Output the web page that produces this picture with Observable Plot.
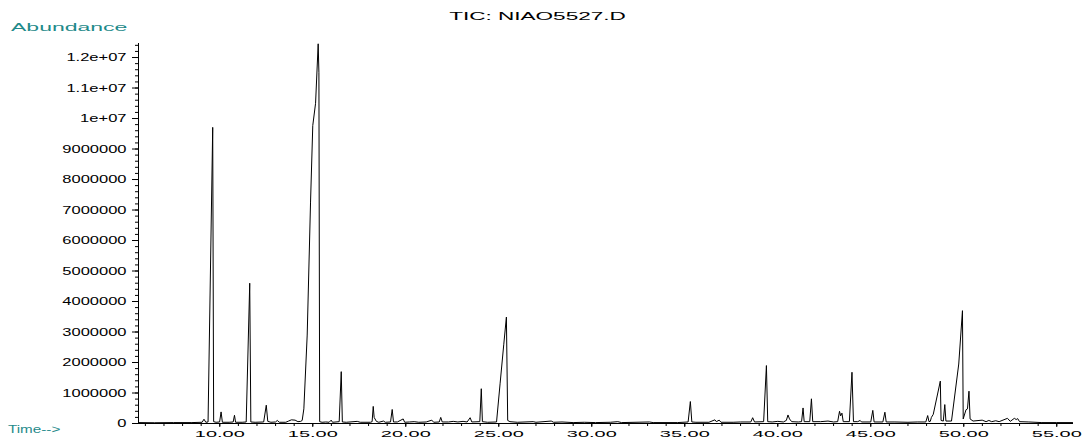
<!DOCTYPE html>
<html><head><meta charset="utf-8">
<script src="https://cdn.jsdelivr.net/npm/d3@7"></script>
<script src="https://cdn.jsdelivr.net/npm/@observablehq/plot@0.6"></script>
<style>
body{margin:0;background:#fff;}
svg{display:block;}
</style>
</head><body><div id="chart"></div>
<script>
const title = "TIC: NIAO5527.D";
const yAxisLabel = "Abundance";
const xAxisLabel = "Time-->";

const times = [5.63,6.5,7.5,8.5,9.05,9.15,9.25,9.37,9.62,9.67,9.8,9.99,10.07,10.14,10.5,10.72,10.79,10.85,11.2,11.42,11.61,11.67,11.9,12.36,12.5,12.58,12.75,13.0,13.09,13.2,13.55,13.7,13.85,14.05,14.2,14.35,14.43,14.52,14.7,14.88,15.0,15.15,15.29,15.33,15.37,15.5,15.7,15.88,15.99,16.06,16.42,16.53,16.59,16.8,17.39,17.55,18.1,18.19,18.25,18.3,18.42,18.55,18.8,18.9,19.18,19.27,19.34,19.55,19.86,19.94,20.2,20.45,20.7,21.1,21.4,21.5,21.8,21.88,21.96,22.3,22.55,22.8,23.08,23.3,23.46,23.55,23.98,24.06,24.12,24.4,24.88,25.07,25.27,25.41,25.48,25.6,26.0,26.85,27.0,27.82,27.95,28.4,29.0,29.6,30.2,31.0,31.4,31.6,33.1,33.3,34.6,35.18,35.3,35.38,35.6,36.3,36.62,36.7,36.85,36.95,37.6,38.0,38.55,38.65,38.75,39.24,39.39,39.46,39.7,40.0,40.3,40.46,40.55,40.63,40.75,41.1,41.28,41.36,41.42,41.72,41.81,41.88,42.3,42.7,43.0,43.22,43.32,43.38,43.45,43.52,43.85,43.99,44.07,44.3,44.43,44.5,45.0,45.11,45.18,45.65,45.76,45.83,46.3,47.0,47.5,47.96,48.06,48.13,48.2,48.26,48.36,48.74,48.78,48.9,48.98,49.04,49.34,49.73,49.93,49.97,50.12,50.2,50.28,50.34,50.5,50.99,51.2,51.35,51.5,51.72,51.9,52.35,52.5,52.72,52.82,52.9,53.0,53.5,54.2,55.0,55.85];
const abundance = [30000,25000,30000,30000,40000,140000,40000,50000,9710000,60000,40000,50000,380000,40000,40000,50000,270000,40000,40000,50000,4600000,50000,40000,50000,600000,70000,40000,50000,100000,40000,40000,80000,120000,110000,60000,70000,100000,480000,2900000,7260000,9770000,10500000,12450000,11500000,60000,40000,50000,40000,110000,40000,60000,1700000,50000,40000,70000,40000,40000,60000,560000,200000,70000,40000,80000,40000,50000,460000,50000,50000,150000,40000,50000,60000,40000,50000,110000,40000,50000,200000,50000,50000,70000,50000,70000,50000,190000,50000,60000,1140000,60000,40000,50000,1300000,2600000,3490000,100000,60000,40000,60000,40000,80000,40000,50000,30000,40000,30000,40000,60000,30000,50000,30000,30000,50000,720000,50000,40000,40000,120000,60000,110000,40000,40000,50000,50000,190000,50000,60000,1900000,60000,50000,70000,50000,100000,280000,150000,60000,50000,60000,510000,60000,60000,810000,60000,60000,80000,50000,60000,400000,250000,340000,60000,60000,1680000,60000,60000,100000,50000,50000,430000,50000,50000,370000,50000,50000,40000,50000,50000,260000,60000,70000,200000,300000,1390000,100000,80000,620000,80000,80000,1950000,3700000,150000,450000,480000,1060000,150000,80000,110000,60000,100000,60000,90000,60000,170000,70000,170000,130000,160000,60000,50000,30000,30000,30000];

const xTicks = [10,15,20,25,30,35,40,45,50,55];
const xTickLabels = ["10.00","15.00","20.00","25.00","30.00","35.00","40.00","45.00","50.00","55.00"];
const xMinorTicks = d3.range(6, 56, 1);
const yTicks = [0,1e6,2e6,3e6,4e6,5e6,6e6,7e6,8e6,9e6,1e7,1.1e7,1.2e7];
const yTickLabels = ["0","1000000","2000000","3000000","4000000","5000000","6000000","7000000","8000000","9000000","1e+07","1.1e+07","1.2e+07"];
const yMinorTicks = d3.range(0, 12.5e6, 2e5);

const xDomain = [5.63, 55.9];
const yDomain = [0, 12460000];

const data = times.map((t, i) => ({t, v: abundance[i]}));
const FONT = '"Liberation Sans", Arial, Helvetica, sans-serif';
const TEAL = "#1f8a8a";

const chart = Plot.plot({
  width: 1087, height: 439,
  marginLeft: 138, marginRight: 14, marginTop: 43, marginBottom: 16,
  x: {domain: xDomain, label: null},
  y: {domain: yDomain, label: null},
  style: {fontFamily: FONT, fontSize: "11px", color: "black", background: "white"},
  marks: [
    Plot.axisX(xMinorTicks, {tickSize: 3, tickFormat: () => "", label: null}),
    Plot.axisX(xTicks, {tickSize: 4, tickPadding: 3, fontSize: 9.5, tickFormat: d => xTickLabels[xTicks.indexOf(d)], label: null, className: "xlab"}),
    Plot.axisY(yMinorTicks, {tickSize: 3, tickFormat: () => "", label: null}),
    Plot.axisY(yTicks, {tickSize: 6, tickPadding: 6, fontSize: 11, tickFormat: d => yTickLabels[yTicks.indexOf(d)], label: null, className: "ylab"}),
    Plot.ruleX([xDomain[0]], {stroke: "black"}),
    Plot.ruleY([0], {stroke: "black"}),
    Plot.line(data, {x: "t", y: "v", stroke: "black", strokeWidth: 1})
  ]
});

document.getElementById("chart").append(chart);
const svg = d3.select(chart);
svg.append("text").attr("class", "ttl").attr("x", 537.5).attr("y", 20).attr("text-anchor", "middle")
  .attr("font-family", FONT).attr("font-size", 11).attr("fill", "black").text(title);
svg.append("text").attr("class", "ylabname").attr("x", 11).attr("y", 30.5).attr("text-anchor", "start")
  .attr("font-family", FONT).attr("font-size", 11.5).attr("fill", TEAL).text(yAxisLabel);
svg.append("text").attr("class", "xlabname").attr("x", 8).attr("y", 433).attr("text-anchor", "start")
  .attr("font-family", FONT).attr("font-size", 10.5).attr("fill", TEAL).text(xAxisLabel);

function stretch(selector, factor) {
  chart.querySelectorAll(selector).forEach(el => {
    if (!el.textContent) return;
    const len = el.getComputedTextLength();
    if (len > 0) {
      el.setAttribute("textLength", (len * factor).toFixed(1));
      el.setAttribute("lengthAdjust", "spacingAndGlyphs");
    }
  });
}
stretch(".xlab text", 2.1);
stretch(".ylab text", 1.5);
stretch("text.ttl", 2.05);
stretch("text.ylabname", 2.0);
stretch("text.xlabname", 1.45);
</script>
</body></html>
